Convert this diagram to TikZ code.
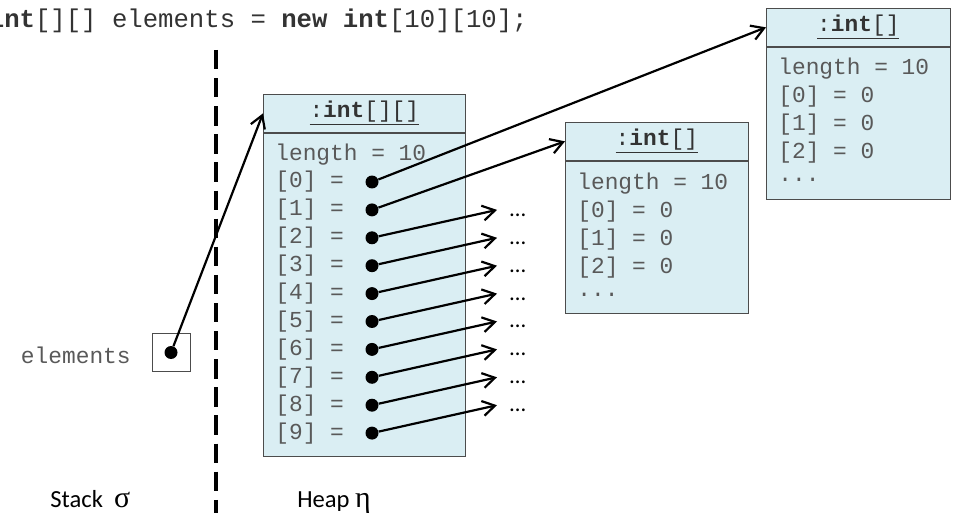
\documentclass[tikz,border=0pt]{standalone}
\usepackage{fontspec}
\setmainfont{Liberation Serif}
\setmonofont{Liberation Mono}
\newfontfamily\calfont{Carlito}
\usetikzlibrary{arrows.meta}

\definecolor{heapblue}{HTML}{DAEEF3}
\tikzset{
	objhead/.style = {draw = black!70, fill = heapblue, inner sep = 0pt, anchor = north west, minimum height = 0.76cm, font = \fontsize{13}{15}\ttfamily, text = black!80},
	objbody/.style = {draw = black!70, fill = heapblue, inner sep = 0pt, anchor = north},
	field/.style = {anchor = west, inner sep = 0pt, font = \fontsize{13}{15}\ttfamily, text = black!65},
	ref/.style = {circle, fill = black, inner sep = 0pt, minimum size = 0.26cm},
	more/.style = {anchor = west, inner xsep = 0.25cm, inner ysep = 0pt, text height = 1.6ex, text depth = 0pt, font = \calfont\fontsize{13}{15}\selectfont},
	refarrow/.style = {-{Straight Barb[length = 7pt, width = 8.5pt]}, line width = 1.25pt},
}

\begin{document}
\begin{tikzpicture}[x = 0.02cm, y = -0.02cm]
	\useasboundingbox (0, 0) rectangle (953, 513);

	% declaration
	\node[anchor = base east, inner sep = 0pt, font = \fontsize{14.6}{17}\ttfamily, text = black!80] (decl) at (528, 28) {\textbf{int}[][] elements = \textbf{new} \textbf{int}[10][10];};

	% stack / heap divider
	\draw[line width = 2pt, dash pattern = on 11pt off 5pt] (216, 50) -- (216, 513);
	\node[anchor = base west, inner sep = 0pt, font = \calfont\fontsize{14}{16}\selectfont] (stacklbl) at (50, 507) {Stack\ \ {\rmfamily\fontsize{17}{18}\selectfont σ}};
	\node[anchor = base west, inner sep = 0pt, font = \calfont\fontsize{14}{16}\selectfont] (heaplbl) at (297, 507) {Heap {\rmfamily\fontsize{17}{18}\selectfont η}};

	% local variable
	\node[draw = black!70, minimum size = 0.76cm, inner sep = 0pt] (elembox) at (171, 352.5) {};
	\node[ref] (elem) at (elembox.center) {};
	\node[field, anchor = base east] (elemlbl) at (131, 363) {elements};

	% outer array
	\node[objhead, minimum width = 4.04cm] (outerhd) at (263, 94) {\underline{:\textbf{int}[][]}};
	\node[objbody, minimum width = 4.04cm, minimum height = 6.46cm] (outerbd) at (outerhd.south) {};
	\node[field] (outerlen) at (275, 155) {length = 10};
	\foreach \i in {0,...,9} {
		\node[field] (slot\i) at (275, {182 + 27.9*\i}) {[\i] =};
		\node[ref] (p\i) at (372, {182 + 27.9*\i}) {};
	}

	% inner array (row 1)
	\node[objhead, minimum width = 3.66cm] (innerAhd) at (565, 122) {\underline{:\textbf{int}[]}};
	\node[objbody, minimum width = 3.66cm, minimum height = 3.04cm] (innerAbd) at (innerAhd.south) {};
	\node[field] (innerAlen) at (577, 184) {length = 10};
	\foreach \i in {0,1,2}
		\node[field] (innerA\i) at (577, {212 + 27.6*\i}) {[\i] = 0};
	\node[field] (innerAmore) at (577, 295) {...};

	% inner array (row 0)
	\node[objhead, minimum width = 3.68cm] (innerBhd) at (766, 8) {\underline{:\textbf{int}[]}};
	\node[objbody, minimum width = 3.68cm, minimum height = 3.04cm] (innerBbd) at (innerBhd.south) {};
	\node[field] (innerBlen) at (778, 69) {length = 10};
	\foreach \i in {0,1,2}
		\node[field] (innerB\i) at (778, {97 + 27.6*\i}) {[\i] = 0};
	\node[field] (innerBmore) at (778, 180) {...};

	% references
	\foreach \i in {1,...,8}
		\node[more] (more\i) at (497, {182 + 27.9*\i}) {…};
	\draw[refarrow] (elem) -- (outerhd.west);
	\draw[refarrow] (p0) -- (innerBhd.west);
	\draw[refarrow] (p1) -- (innerAhd.west);
	\foreach \i [count = \j from 2] in {1,...,8}
		\draw[refarrow] (p\j) -- (more\i.west);
\end{tikzpicture}
\end{document}
